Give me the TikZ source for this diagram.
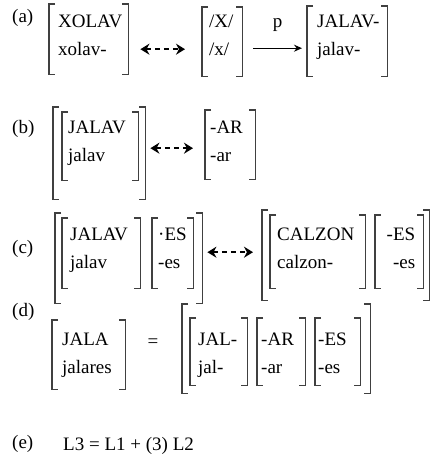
\documentclass[tikz,border=0pt]{standalone}
\usepackage{fontspec}
\setmainfont{Liberation Serif}
\usepackage{tikz}
\usetikzlibrary{arrows.meta}
\tikzstyle{feat} = [anchor=north west, inner ysep=0pt, align=left, execute at begin node={\exhyphenpenalty=10000\hyphenpenalty=10000}]
\tikzstyle{outerbrk} = [anchor=north west, inner sep=0pt]
\tikzstyle{rowtag} = [anchor=base west, inner sep=0pt]
\tikzstyle{brk} = [line width=1.2pt, draw=black!75]
\tikzstyle{arrow} = [line width=1.2pt, -{Stealth[length=8pt,width=7pt]}]
\tikzstyle{dblarrow} = [line width=2pt, {Stealth[length=9pt,width=11pt]}-{Stealth[length=9pt,width=11pt]}, dash pattern=on 5pt off 4pt]

\begin{document}
\begin{tikzpicture}[x=1pt, y=-1pt, font=\fontsize{19}{28}\selectfont]
\useasboundingbox (0,0) rectangle (431,457);

% (a)
\node (taga) [rowtag] at (12,23) {(a)};
\node (a1) [feat, inner xsep=9pt, text width=61pt, text height=23pt, text depth=47pt] at (49,4) {XOLAV\\xolav-};
\node (a2) [feat, inner xsep=7pt, text width=26pt, text height=20pt, text depth=49pt] at (202,7) {/X/\\/x/};
\node (a3) [feat, inner xsep=10pt, text width=60pt, text height=21pt, text depth=49pt] at (307,6) {JALAV-\\jalav-};

% (b)
\node (tagb) [rowtag] at (12,134) {(b)};
\node (b0) [outerbrk, minimum width=92pt, minimum height=92pt] at (53,107) {};
\node (b1) [feat, inner xsep=6pt, text width=64pt, text height=21pt, text depth=47pt] at (62,112) {JALAV\\jalav};
\node (b2) [feat, inner xsep=5pt, text width=40pt, text height=23pt, text depth=46pt] at (205,110) {-AR\\-ar};

% (c)
\node (tagc) [rowtag] at (12,253) {(c)};
\node (c0) [outerbrk, minimum width=147pt, minimum height=90pt] at (55,213) {};
\node (c1) [feat, inner xsep=8pt, text width=62pt, text height=22pt, text depth=48pt] at (62,218) {JALAV\\jalav};
\node (c2) [feat, inner xsep=6pt, text width=29pt, text height=22pt, text depth=48pt] at (152,218) {·ES\\-es};
\node (c3) [outerbrk, minimum width=167pt, minimum height=90pt] at (262,210) {};
\node (c4) [feat, inner xsep=7pt, text width=81pt, text height=25pt, text depth=48pt] at (270,215) {CALZON\\calzon-};
\node (c5) [feat, align=right, inner xsep=8pt, text width=32pt, text height=25pt, text depth=48pt] at (375,215) {-ES\\-es};

% (d)
\node (tagd) [rowtag] at (12,316) {(d)};
\node (d1) [feat, inner xsep=10pt, text width=53pt, text height=25pt, text depth=44pt] at (52,320) {JALA\\jalares};
\node (eq) [anchor=base, inner sep=0pt] at (153,347) {=};
\node (d0) [outerbrk, minimum width=188pt, minimum height=89pt] at (182,304) {};
\node (d2) [feat, inner xsep=8pt, text width=41pt, text height=27pt, text depth=40pt] at (190,318) {JAL-\\jal-};
\node (d3) [feat, inner xsep=4pt, text width=40pt, text height=27pt, text depth=40pt] at (257,318) {-AR\\-ar};
\node (d4) [feat, inner xsep=3pt, text width=39pt, text height=27pt, text depth=40pt] at (315,318) {-ES\\-es};

% (e)
\node (tage) [rowtag] at (12,448) {(e)};
\node (sum) [rowtag] at (63,450) {L3 = L1 + (3) L2};

% brackets
\foreach \n in {a1,a2,a3,b0,b1,b2,c0,c1,c2,c3,c4,c5,d0,d1,d2,d3,d4}
  \draw [brk] ([xshift=6pt]\n.north west) -| (\n.south west) -- ++(6pt,0)
              ([xshift=-6pt]\n.north east) -| (\n.south east) -- ++(-6pt,0);

\draw [dblarrow] ([xshift=12pt,yshift=-10pt]a1.east) -- ([xshift=-17pt,yshift=-7.5pt]a2.west);
\draw [arrow] ([xshift=11pt,yshift=-6.5pt]a2.east) -- node (p) [above=16pt, inner sep=0pt] {p} ([xshift=-5pt,yshift=-7pt]a3.west);
\draw [dblarrow] ([xshift=5pt,yshift=5pt]b0.east) -- ([xshift=-12pt,yshift=-3.5pt]b2.west);
\draw [dblarrow] ([xshift=5pt,yshift=6pt]c0.east) -- ([xshift=-9pt,yshift=3pt]c3.west);
\end{tikzpicture}
\end{document}
